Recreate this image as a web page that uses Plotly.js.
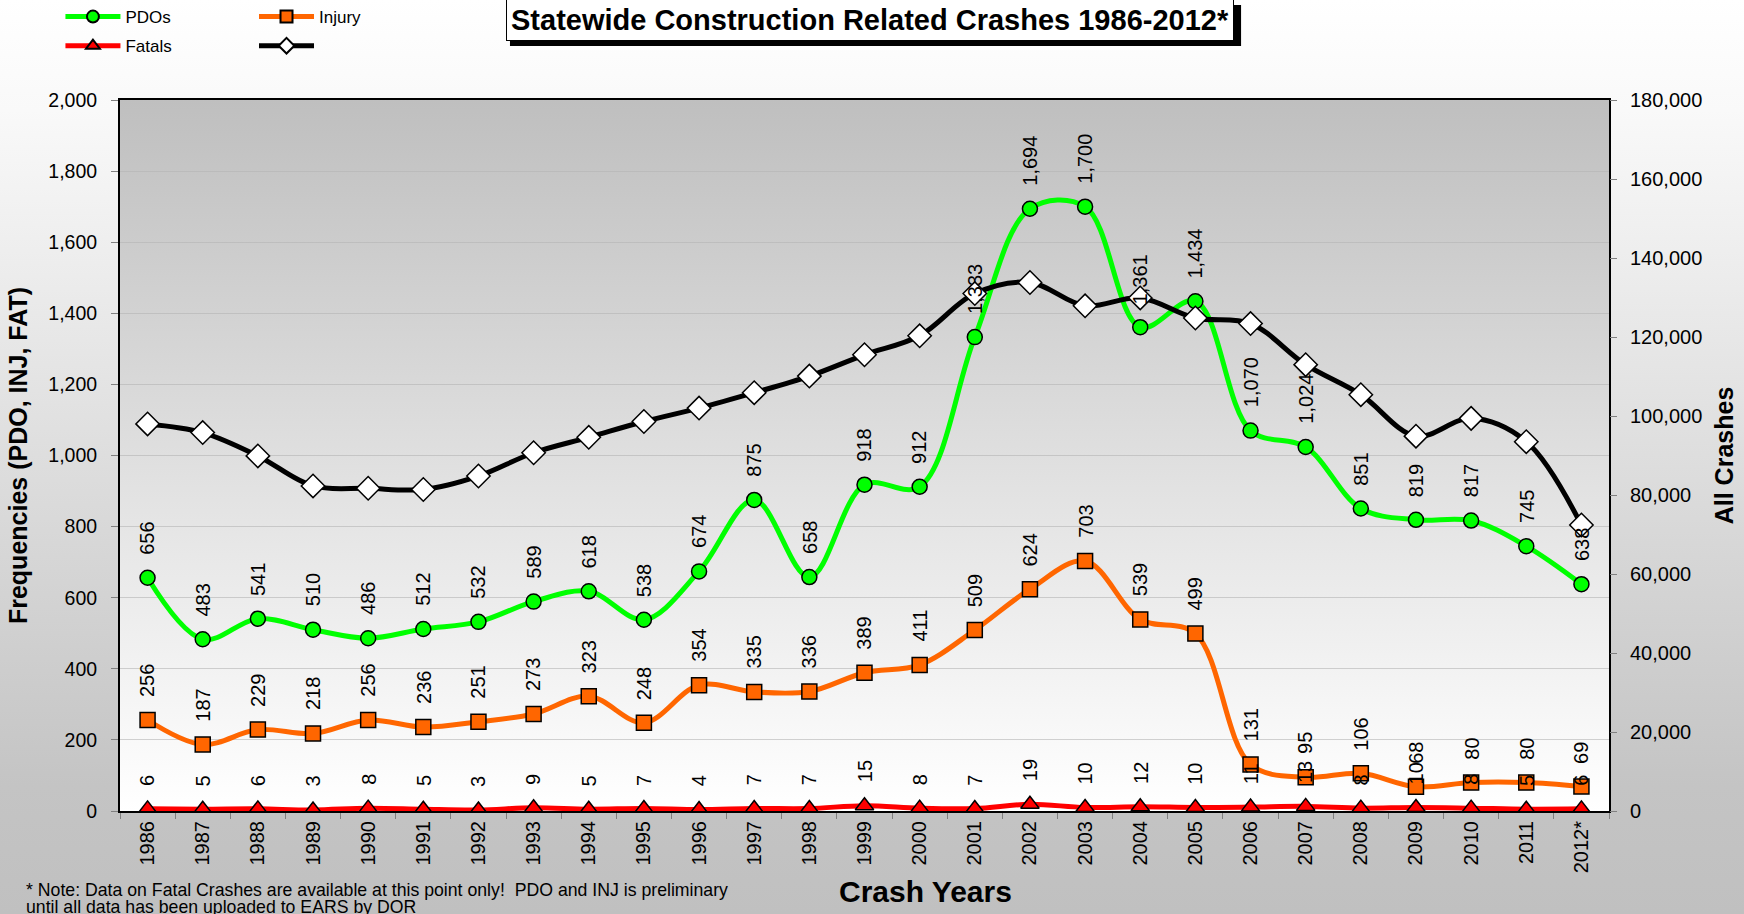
<!DOCTYPE html>
<html>
<head>
<meta charset="utf-8">
<script src="https://cdn.plot.ly/plotly-3.0.1.min.js"></script>
<style>
  html, body { margin: 0; padding: 0; }
  #chart {
    width: 1744px; height: 914px;
    background: linear-gradient(to bottom, #ffffff 0%, #f9f9f9 12%, #c4c4c4 86%, #c0c0c0 100%);
  }
</style>
</head>
<body>
<div id="chart"></div>
<script>
// ---- Data ----
const years = ["1986","1987","1988","1989","1990","1991","1992","1993","1994","1995","1996","1997","1998","1999","2000","2001","2002","2003","2004","2005","2006","2007","2008","2009","2010","2011","2012*"];
const pdos = [656,483,541,510,486,512,532,589,618,538,674,875,658,918,912,1333,1694,1700,1361,1434,1070,1024,851,819,817,745,638];
const injury = [256,187,229,218,256,236,251,273,323,248,354,335,336,389,411,509,624,703,539,499,131,95,106,68,80,80,69];
const fatals = [6,5,6,3,8,5,3,9,5,7,4,7,7,15,8,7,19,10,12,10,11,13,8,10,8,5,6];
const allCrashes = [98000,95800,89900,82300,81700,81400,84800,90700,94600,98600,102000,105900,110100,115500,120300,131000,133800,127900,129900,124800,123400,113000,105400,94900,99400,93500,72400];

const leftTicks = [0,200,400,600,800,1000,1200,1400,1600,1800,2000];
const rightTicks = [0,20000,40000,60000,80000,100000,120000,140000,160000,180000];

const FONT = 'Arial, "Liberation Sans", sans-serif';

function fmt(v) { return v.toLocaleString('en-US'); }

const traces = [
  { name: 'PDOs', x: years, y: pdos, type: 'scatter', mode: 'lines+markers',
    line: { color: '#00ff00', width: 5, shape: 'spline', smoothing: 1 },
    marker: { symbol: 'circle', size: 15, color: '#00ff00', line: { color: '#000', width: 1.5 } },
    legend: 'legend', legendgroup: 'g1', legendrank: 1 },
  { name: 'Injury', x: years, y: injury, type: 'scatter', mode: 'lines+markers',
    line: { color: '#ff6600', width: 5, shape: 'spline', smoothing: 1 },
    marker: { symbol: 'square', size: 15, color: '#ff6600', line: { color: '#000', width: 1.5 } },
    legend: 'legend2', legendgroup: 'g3', legendrank: 1 },
  { name: 'Fatals', x: years, y: fatals, type: 'scatter', mode: 'lines+markers',
    line: { color: '#ff0000', width: 5, shape: 'spline', smoothing: 1 },
    marker: { symbol: 'triangle-up', size: 16, color: '#ff0000', line: { color: '#000', width: 1.5 } },
    legend: 'legend', legendgroup: 'g2', legendrank: 2 },
  { name: ' ', x: years, y: allCrashes, type: 'scatter', mode: 'lines+markers', yaxis: 'y2',
    line: { color: '#000000', width: 5, shape: 'spline', smoothing: 1 },
    marker: { symbol: 'diamond', size: 18, color: '#ffffff', line: { color: '#000', width: 1.5 } },
    legend: 'legend2', legendgroup: 'g4', legendrank: 2 }
];

// data labels: category axes take the category index as annotation position
function labelAnns(vals) {
  return vals.map((v, i) => ({
    x: i, y: v, xref: 'x', yref: 'y',
    text: fmt(v), textangle: -90, showarrow: false,
    xanchor: 'center', yanchor: 'bottom', yshift: 21,
    font: { family: FONT, size: 20, color: '#000' }
  }));
}

const titleText = 'Statewide Construction Related Crashes 1986-2012*';
const annotations = [].concat(
  labelAnns(pdos), labelAnns(injury), labelAnns(fatals),
  [
    { text: '<b>' + titleText + '</b>', xref: 'paper', yref: 'paper', x: 0.5040, y: 1.112,
      xanchor: 'center', yanchor: 'middle', showarrow: false,
      bgcolor: '#ffffff', bordercolor: '#000', borderwidth: 1, borderpad: 4,
      font: { family: FONT, size: 29, color: '#000' } },
    { text: '<b>Crash Years</b>', xref: 'paper', yref: 'paper', x: 0.541, y: -0.1139,
      xanchor: 'center', yanchor: 'middle', showarrow: false,
      font: { family: FONT, size: 30, color: '#000' } },
    { text: '* Note: Data on Fatal Crashes are available at this point only!  PDO and INJ is preliminary',
      xref: 'paper', yref: 'paper', x: -0.0645, y: (811 - 890) / 711, xanchor: 'left', yanchor: 'middle',
      align: 'left', showarrow: false,
      font: { family: FONT, size: 17.7, color: '#000' } },
    { text: 'until all data has been uploaded to EARS by DOR',
      xref: 'paper', yref: 'paper', x: -0.0645, y: (811 - 907) / 711, xanchor: 'left', yanchor: 'middle',
      align: 'left', showarrow: false,
      font: { family: FONT, size: 17.7, color: '#000' } }
  ]
);

const plotBgSvg = "<svg xmlns='http://www.w3.org/2000/svg' width='100' height='100' preserveAspectRatio='none'>" +
  "<defs><linearGradient id='g' x1='0' y1='0' x2='0' y2='1'>" +
  "<stop offset='0' stop-color='#bfbfbf'/><stop offset='1' stop-color='#ffffff'/>" +
  "</linearGradient></defs><rect width='100' height='100' fill='url(#g)'/></svg>";

const layout = {
  width: 1744, height: 914,
  margin: { l: 120, r: 135, t: 100, b: 103, autoexpand: false },
  paper_bgcolor: 'rgba(0,0,0,0)',
  plot_bgcolor: 'rgba(0,0,0,0)',
  font: { family: FONT, color: '#000', size: 18 },
  images: [{
    source: 'data:image/svg+xml;charset=utf-8,' + encodeURIComponent(plotBgSvg),
    xref: 'paper', yref: 'paper', x: 0, y: 1, sizex: 1, sizey: 1,
    sizing: 'stretch', xanchor: 'left', yanchor: 'top', layer: 'below'
  }],
  shapes: [{
    // drop shadow of the title box
    type: 'rect', xref: 'paper', yref: 'paper', layer: 'above',
    x0: 0.2619, x1: 0.7529, y0: 1.0759, y1: 1.1336,
    fillcolor: '#000', line: { width: 0 }
  }],
  xaxis: {
    type: 'category', range: [-0.5, 26.5], tickangle: -90,
    ticks: 'outside', tickson: 'boundaries', ticklen: 6, tickcolor: '#808080',
    showline: true, linecolor: '#000', linewidth: 2, mirror: true,
    showgrid: false, zeroline: false,
    tickfont: { family: FONT, size: 20, color: '#000' }
  },
  yaxis: {
    range: [0, 2000], tickvals: leftTicks, tickformat: ',d',
    ticks: 'outside', ticklen: 7, tickcolor: '#808080', ticklabelstandoff: 10,
    showline: true, linecolor: '#000', linewidth: 2, mirror: true,
    showgrid: true, gridcolor: '#b4b4b4', gridwidth: 0.6, zeroline: false,
    tickfont: { family: FONT, size: 19.5, color: '#000' },
    title: { text: 'Frequencies (PDO, INJ, FAT)', font: { family: FONT, size: 25, weight: 'bold', color: '#000' }, standoff: 14 }
  },
  yaxis2: {
    overlaying: 'y', side: 'right', range: [0, 180000], tickvals: rightTicks, tickformat: ',d',
    ticks: 'outside', ticklen: 7, tickcolor: '#808080', ticklabelstandoff: 9,
    showgrid: false, zeroline: false, showline: false,
    tickfont: { family: FONT, size: 20, color: '#000' },
    title: { text: 'All Crashes', font: { family: FONT, size: 25, weight: 'bold', color: '#000' }, standoff: 14 }
  },
  showlegend: true,
  legend: {
    x: -0.040, y: 1.142, xanchor: 'left', yanchor: 'top', orientation: 'v',
    bgcolor: 'rgba(0,0,0,0)', itemwidth: 55, tracegroupgap: 4, itemsizing: 'constant',
    font: { family: FONT, size: 17, color: '#000' }
  },
  legend2: {
    x: 0.090, y: 1.142, xanchor: 'left', yanchor: 'top', orientation: 'v',
    bgcolor: 'rgba(0,0,0,0)', itemwidth: 55, tracegroupgap: 4, itemsizing: 'constant',
    font: { family: FONT, size: 17, color: '#000' }
  },
  annotations: annotations
};

Plotly.newPlot('chart', traces, layout, { displayModeBar: false, staticPlot: true });
</script>
</body>
</html>
